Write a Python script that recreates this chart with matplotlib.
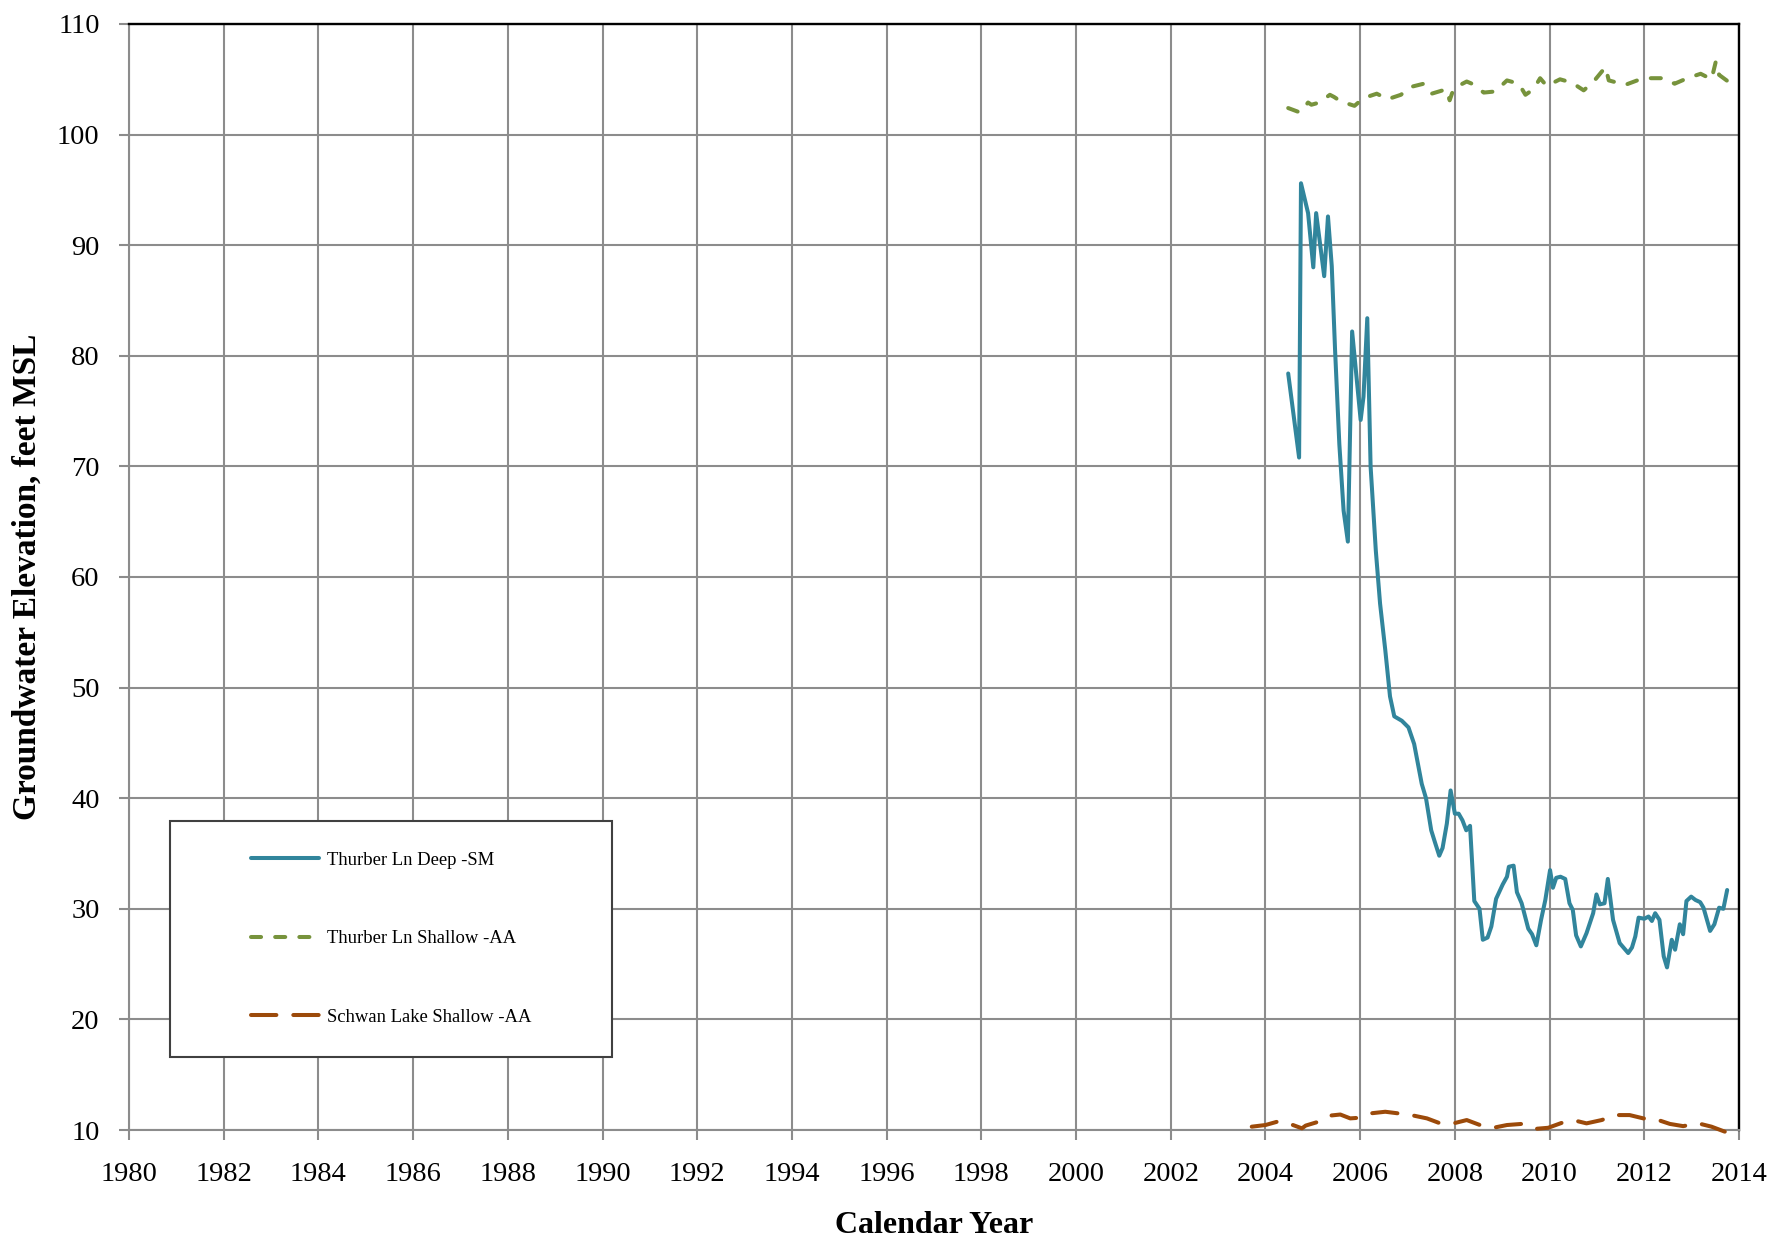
import matplotlib
matplotlib.use("Agg")
import matplotlib.pyplot as plt
from matplotlib.patches import Rectangle

# ---------------- data ----------------
deep_years = [2004.48, 2004.71, 2004.75, 2004.90, 2005.01, 2005.07, 2005.24, 2005.32, 2005.40, 2005.47,
              2005.56, 2005.65, 2005.74, 2005.83, 2006.01, 2006.07, 2006.15, 2006.22, 2006.33, 2006.42,
              2006.53, 2006.63, 2006.72, 2006.88, 2007.02, 2007.14, 2007.30, 2007.39, 2007.50, 2007.58,
              2007.67, 2007.74, 2007.83, 2007.91, 2008.00, 2008.08, 2008.16, 2008.24, 2008.32, 2008.41,
              2008.52, 2008.59, 2008.69, 2008.77, 2008.87, 2009.01, 2009.10, 2009.14, 2009.24, 2009.31,
              2009.41, 2009.55, 2009.63, 2009.72, 2009.82, 2009.91, 2010.01, 2010.07, 2010.14, 2010.23,
              2010.33, 2010.42, 2010.49, 2010.56, 2010.66, 2010.78, 2010.92, 2010.99, 2011.06, 2011.16,
              2011.23, 2011.34, 2011.48, 2011.56, 2011.66, 2011.74, 2011.81, 2011.88, 2012.00, 2012.09,
              2012.16, 2012.23, 2012.32, 2012.41, 2012.48, 2012.58, 2012.65, 2012.75, 2012.82, 2012.89,
              2012.99, 2013.08, 2013.18, 2013.25, 2013.39, 2013.48, 2013.58, 2013.67, 2013.75]
deep_values = [78.4, 70.8, 95.6, 92.9, 88.0, 92.9, 87.2, 92.6, 88.1, 80.5,
               72.0, 66.0, 63.2, 82.2, 74.2, 76.3, 83.4, 70.0, 62.4, 57.6,
               53.4, 49.2, 47.4, 47.0, 46.4, 44.9, 41.3, 40.0, 37.1, 36.0,
               34.8, 35.5, 37.7, 40.7, 38.6, 38.6, 38.0, 37.1, 37.5, 30.7,
               30.0, 27.2, 27.4, 28.4, 30.9, 32.2, 32.9, 33.8, 33.9, 31.5,
               30.5, 28.2, 27.7, 26.7, 29.0, 30.8, 33.5, 31.9, 32.8, 32.9,
               32.7, 30.5, 29.9, 27.6, 26.6, 27.8, 29.6, 31.3, 30.4, 30.5,
               32.7, 29.0, 26.9, 26.5, 26.0, 26.5, 27.5, 29.2, 29.1, 29.3,
               28.9, 29.6, 29.0, 25.7, 24.7, 27.2, 26.3, 28.6, 27.7, 30.7,
               31.1, 30.8, 30.6, 30.1, 28.0, 28.6, 30.1, 30.0, 31.7]

shallow_years = [2004.48, 2004.73, 2004.90, 2004.97, 2005.14, 2005.36, 2005.45, 2005.59, 2005.88, 2006.07,
                 2006.35, 2006.58, 2006.86, 2007.06, 2007.34, 2007.51, 2007.82, 2007.89, 2007.97, 2008.16,
                 2008.25, 2008.36, 2008.61, 2008.85, 2009.10, 2009.35, 2009.49, 2009.66, 2009.80, 2009.94,
                 2010.22, 2010.47, 2010.72, 2010.93, 2011.18, 2011.25, 2011.60, 2011.85, 2012.13, 2012.41,
                 2012.64, 2012.91, 2013.19, 2013.42, 2013.51, 2013.58, 2013.77]
shallow_values = [102.4, 102.0, 102.9, 102.7, 102.9, 103.6, 103.4, 103.0, 102.6, 103.3,
                  103.7, 103.2, 103.6, 104.3, 104.6, 103.7, 104.1, 103.1, 104.1, 104.6,
                  104.8, 104.6, 103.8, 103.9, 104.9, 104.6, 103.6, 104.1, 105.1, 104.4,
                  105.0, 104.7, 104.0, 104.8, 106.1, 104.9, 104.5, 104.9, 105.1, 105.1,
                  104.6, 105.1, 105.5, 105.0, 106.6, 105.4, 104.8]

schwan_years = [2003.71, 2004.00, 2004.29, 2004.58, 2004.77, 2004.85, 2005.12, 2005.36, 2005.58, 2005.79,
                2005.96, 2006.21, 2006.53, 2006.81, 2007.13, 2007.41, 2007.69, 2007.97, 2008.25, 2008.53,
                2008.81, 2009.10, 2009.41, 2009.69, 2009.97, 2010.26, 2010.54, 2010.78, 2011.10, 2011.38,
                2011.69, 2011.98, 2012.26, 2012.54, 2012.82, 2013.14, 2013.42, 2013.70]
schwan_values = [10.3, 10.45, 10.8, 10.45, 10.15, 10.4, 10.75, 11.3, 11.4, 11.05,
                 11.1, 11.5, 11.65, 11.5, 11.3, 11.05, 10.6, 10.6, 10.9, 10.45,
                 10.2, 10.45, 10.55, 10.1, 10.2, 10.65, 10.85, 10.6, 10.9, 11.35,
                 11.35, 11.05, 10.95, 10.55, 10.35, 10.6, 10.3, 9.85]

series_labels = ["Thurber Ln Deep -SM", "Thurber Ln Shallow -AA", "Schwan Lake Shallow -AA"]
x_ticks = list(range(1980, 2015, 2))
y_ticks = list(range(10, 111, 10))

# ---------------- style ----------------
plt.rcParams['font.family'] = ['Liberation Serif', 'DejaVu Serif']
grid_color = '#8c8c8c'
c_deep = '#31859c'
c_shallow = '#77933c'
c_schwan = '#9c4a0a'
lw = 2.9

fig = plt.figure(figsize=(17.92, 12.41), dpi=100)
ax = fig.add_axes([129/1792, 1 - 1130/1241, (1739-129)/1792, (1130-24)/1241])

ax.plot(deep_years, deep_values, color=c_deep, lw=lw, solid_joinstyle='round',
        solid_capstyle='round', label=series_labels[0], zorder=3)
ax.plot(shallow_years, shallow_values, color=c_shallow, lw=lw, linestyle=(0, (2.5, 3.5)),
        dash_capstyle='round', dash_joinstyle='round', label=series_labels[1], zorder=3)
ax.plot(schwan_years, schwan_values, color=c_schwan, lw=lw, linestyle=(0, (6.3, 4.2)),
        dash_capstyle='round', dash_joinstyle='round', label=series_labels[2], zorder=3,
        clip_on=False)

ax.set_xlim(1980, 2014)
ax.set_ylim(10, 110)
ax.set_xticks(x_ticks)
ax.set_yticks(y_ticks)
ax.grid(True, color=grid_color, lw=1.5, zorder=0)
ax.set_axisbelow(True)

for s in ['left', 'bottom']:
    ax.spines[s].set_color(grid_color)
    ax.spines[s].set_linewidth(1.5)
for s in ['top', 'right']:
    ax.spines[s].set_color('black')
    ax.spines[s].set_linewidth(1.7)

ax.tick_params(axis='both', direction='out', length=7.2, width=1.5, color=grid_color,
               labelsize=20.5, labelcolor='black')
ax.tick_params(axis='x', pad=16)
ax.tick_params(axis='y', pad=14)

ax.set_xlabel("Calendar Year", fontsize=23, fontweight='bold', labelpad=17)
ax.set_ylabel("Groundwater Elevation, feet MSL", fontsize=24, fontweight='bold', labelpad=10)

# legend box
lx0 = (170 - 129) / 1610
ly0 = (1130 - 1056.7) / 1106
lw_ = (611.7 - 170) / 1610
lh_ = (1056.7 - 821) / 1106
rect = Rectangle((lx0, ly0), lw_, lh_, transform=ax.transAxes, facecolor='white',
                 edgecolor='#404040', lw=1.5, zorder=5)
ax.add_patch(rect)
leg = ax.legend(loc='center', bbox_to_anchor=(lx0, ly0, lw_, lh_), frameon=False,
                fontsize=13.4, handlelength=3.7, handletextpad=0.38, labelspacing=3.3,
                borderpad=0)
leg.set_zorder(6)

fig.savefig("out.png", dpi=100)
